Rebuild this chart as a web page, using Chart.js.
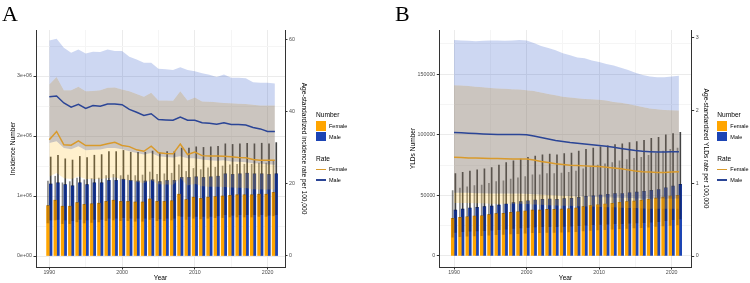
<!DOCTYPE html>
<html lang="en">
<head>
<meta charset="UTF-8">
<title>Incidence and YLDs by sex, 1990-2021</title>
<style>
  body { margin: 0; background: #fff; width: 750px; height: 283px; position: relative; overflow: hidden;
         font-family: "Liberation Sans", Arial, sans-serif; }
  .panel { position: absolute; top: 0; width: 375px; height: 283px; }
  .panel canvas { position: absolute; left: 0; top: 0; }
  .tag { position: absolute; top: 3px; font-family: "Liberation Serif", serif; font-size: 22px; line-height: 22px; color: #000; }
  .lg { position: absolute; white-space: nowrap; color: #000; }
  .lg-title { font-size: 6.6px; line-height: 10px; }
  .lg-lab { font-size: 5.5px; line-height: 10px; }
  .key { position: absolute; width: 9.7px; height: 9.5px; }
  .lkey { position: absolute; width: 9.5px; height: 1.5px; }
</style>
</head>
<body>
  <div class="panel" style="left:0px">
    <canvas id="chartA" width="375" height="283"></canvas>
    <div class="tag" style="left:2px">A</div>
  </div>
  <div class="panel" style="left:375px">
    <canvas id="chartB" width="375" height="283"></canvas>
    <div class="tag" style="left:20px">B</div>
  </div>

  <script src="https://cdn.jsdelivr.net/npm/chart.js"></script>
  <script>
    // ---- data ----
    const years = [1990,1991,1992,1993,1994,1995,1996,1997,1998,1999,2000,2001,2002,2003,2004,2005,
                   2006,2007,2008,2009,2010,2011,2012,2013,2014,2015,2016,2017,2018,2019,2020,2021];
    const sexes = ['Female', 'Male'];

    // panel A: incidence number
    const incFemale   = [0.84e6,0.93e6,0.83e6,0.83e6,0.89e6,0.86e6,0.87e6,0.88e6,0.91e6,0.93e6,0.91e6,0.91e6,0.90e6,0.90e6,0.95e6,0.91e6,
                         0.91e6,0.92e6,1.03e6,0.94e6,0.98e6,0.96e6,0.98e6,0.99e6,1.00e6,1.01e6,1.02e6,1.02e6,1.02e6,1.03e6,1.03e6,1.06e6];
    const incFemaleLo = [0.55e6,0.60e6,0.54e6,0.54e6,0.57e6,0.55e6,0.56e6,0.57e6,0.59e6,0.60e6,0.59e6,0.59e6,0.58e6,0.58e6,0.61e6,0.59e6,
                         0.59e6,0.60e6,0.67e6,0.61e6,0.63e6,0.62e6,0.63e6,0.64e6,0.64e6,0.65e6,0.65e6,0.65e6,0.65e6,0.66e6,0.66e6,0.67e6];
    const incFemaleHi = [1.25e6,1.33e6,1.22e6,1.24e6,1.30e6,1.27e6,1.29e6,1.30e6,1.34e6,1.36e6,1.34e6,1.35e6,1.34e6,1.35e6,1.40e6,1.36e6,
                         1.37e6,1.38e6,1.52e6,1.41e6,1.46e6,1.44e6,1.47e6,1.48e6,1.50e6,1.52e6,1.53e6,1.53e6,1.53e6,1.55e6,1.55e6,1.58e6];
    const incMale     = [1.20e6,1.22e6,1.19e6,1.17e6,1.22e6,1.19e6,1.22e6,1.22e6,1.26e6,1.26e6,1.28e6,1.26e6,1.25e6,1.25e6,1.27e6,1.24e6,
                         1.26e6,1.26e6,1.31e6,1.31e6,1.32e6,1.31e6,1.32e6,1.33e6,1.37e6,1.36e6,1.37e6,1.38e6,1.37e6,1.37e6,1.36e6,1.37e6];
    const incMaleLo   = [0.60e6,0.61e6,0.60e6,0.59e6,0.61e6,0.60e6,0.61e6,0.61e6,0.63e6,0.63e6,0.64e6,0.63e6,0.63e6,0.63e6,0.64e6,0.62e6,
                         0.63e6,0.63e6,0.66e6,0.66e6,0.66e6,0.66e6,0.66e6,0.67e6,0.69e6,0.68e6,0.69e6,0.69e6,0.69e6,0.69e6,0.68e6,0.69e6];
    const incMaleHi   = [1.65e6,1.68e6,1.62e6,1.60e6,1.66e6,1.64e6,1.68e6,1.69e6,1.74e6,1.74e6,1.76e6,1.73e6,1.73e6,1.73e6,1.75e6,1.72e6,
                         1.74e6,1.74e6,1.80e6,1.80e6,1.82e6,1.81e6,1.82e6,1.83e6,1.87e6,1.86e6,1.87e6,1.88e6,1.87e6,1.88e6,1.87e6,1.89e6];
    // panel A: age-standardized incidence rate per 100,000
    const asirFemale   = [32.2,34.5,30.8,30.7,31.9,30.6,30.6,30.6,31.1,31.5,30.6,30.3,29.4,29.0,30.4,28.6,
                          28.4,28.3,31.0,28.1,28.8,27.8,27.7,27.7,27.6,27.5,27.3,27.2,26.7,26.5,26.5,26.5];
    const asirFemaleLo = [22.0,23.0,21.5,21.3,22.0,21.3,21.3,21.3,21.6,21.8,21.2,21.0,20.5,20.2,21.0,19.9,
                          19.8,19.7,21.5,19.5,20.0,19.3,19.2,19.2,19.1,19.0,18.9,18.8,18.5,18.4,18.4,18.4];
    const asirFemaleHi = [47.5,49.6,45.9,45.9,46.9,45.6,45.7,45.9,46.6,46.7,46.1,45.6,44.9,44.1,45.2,43.1,
                          43.1,43.0,45.6,43.1,43.9,42.8,42.7,42.6,42.4,42.3,42.2,42.1,41.9,41.7,41.7,41.7];
    const asirMale     = [44.1,44.3,42.4,41.2,42.0,40.9,41.7,41.5,42.1,42.1,41.9,40.6,39.8,38.9,39.4,37.8,
                          37.7,37.6,38.5,37.6,37.6,36.9,36.8,36.5,36.9,36.4,36.4,36.3,35.6,35.2,34.5,34.5];
    const asirMaleLo   = [31.3,31.8,29.9,29.6,30.4,29.3,29.4,29.5,29.9,29.9,29.6,29.0,28.5,28.1,28.5,27.6,
                          27.4,27.3,27.6,27.1,27.1,26.7,26.5,26.4,26.5,26.2,26.1,26.0,25.7,25.6,25.4,25.3];
    const asirMaleHi   = [59.7,60.2,57.7,56.3,57.2,56.1,56.6,56.5,57.2,56.8,56.8,55.2,54.4,53.5,53.5,51.9,
                          51.7,51.5,52.3,51.5,51.2,50.6,50.2,49.6,50.3,49.4,49.4,49.2,48.1,48.0,48.0,47.8];

    // panel B: YLDs number
    const yldFemale   = [31000,31900,32400,33000,33200,34100,34900,35200,36000,36500,37100,37900,37900,38500,38500,38700,
                         39000,39600,40700,41500,42300,42900,43400,44200,44800,45300,45900,46700,47800,48600,49500,50000];
    const yldFemaleLo = [15500,16000,16300,16600,16800,17200,17600,17800,18200,18500,18800,19200,19200,19500,19500,19600,
                         19800,20100,20600,21100,21500,21800,22100,22500,22800,23100,23400,23800,24400,24800,25300,25600];
    const yldFemaleHi = [54000,56000,57000,58000,58500,60000,61500,62000,63500,64500,65500,67000,67000,68000,68000,68500,
                         69000,70000,72000,73500,75000,76000,77000,78500,79500,80500,81500,83000,85000,86500,88000,89000];
    const yldMale     = [37900,38700,39600,40100,40700,41200,42000,42900,44000,44800,45600,46200,46700,47000,46700,47300,
                         47500,48400,49200,49700,50300,50800,51400,51600,52200,52700,53300,54100,54900,56300,57700,59100];
    const yldMaleLo   = [19500,20000,20500,20700,21000,21300,21700,22200,22800,23200,23600,23900,24200,24300,24200,24500,
                         24600,25100,25500,25800,26100,26300,26600,26700,27000,27300,27600,28000,28400,29200,29900,30600];
    const yldMaleHi   = [68000,69000,70000,71000,72000,73000,75000,77000,78500,80000,81500,82500,83500,84000,83500,84500,
                         85000,86500,88000,89000,90000,91000,92000,92500,93500,94500,95500,97000,98000,100000,101000,102000];
    // panel B: age-standardized YLDs rate per 100,000
    const asyrFemale   = [1.36,1.355,1.35,1.348,1.345,1.343,1.34,1.338,1.336,1.335,1.333,1.32,1.30,1.285,1.27,1.26,
                          1.25,1.245,1.24,1.235,1.23,1.22,1.21,1.20,1.185,1.17,1.16,1.155,1.15,1.15,1.155,1.16];
    const asyrFemaleLo = [0.73,0.73,0.73,0.725,0.725,0.72,0.72,0.72,0.72,0.72,0.715,0.71,0.705,0.70,0.695,0.69,
                          0.69,0.685,0.68,0.68,0.675,0.67,0.67,0.665,0.66,0.66,0.655,0.65,0.65,0.65,0.65,0.65];
    const asyrFemaleHi = [2.35,2.345,2.34,2.33,2.32,2.31,2.305,2.30,2.295,2.29,2.28,2.27,2.25,2.23,2.21,2.19,
                          2.18,2.17,2.16,2.155,2.15,2.14,2.12,2.11,2.09,2.07,2.05,2.03,2.02,2.01,2.005,2.00];
    const asyrMale     = [1.70,1.695,1.69,1.685,1.68,1.675,1.672,1.67,1.67,1.67,1.668,1.65,1.63,1.61,1.59,1.575,
                          1.56,1.55,1.54,1.53,1.52,1.51,1.495,1.48,1.465,1.45,1.44,1.435,1.43,1.43,1.435,1.435];
    const asyrMaleLo   = [0.87,0.87,0.87,0.865,0.865,0.86,0.86,0.86,0.86,0.86,0.855,0.85,0.845,0.84,0.835,0.83,
                          0.825,0.82,0.82,0.815,0.81,0.81,0.805,0.80,0.80,0.795,0.79,0.79,0.79,0.79,0.79,0.79];
    const asyrMaleHi   = [2.97,2.965,2.96,2.955,2.96,2.965,2.965,2.96,2.965,2.97,2.965,2.93,2.89,2.86,2.83,2.79,
                          2.76,2.73,2.72,2.69,2.67,2.64,2.62,2.59,2.56,2.52,2.49,2.47,2.46,2.46,2.47,2.48];

    // ticks
    const xTicks  = [1990, 2000, 2010, 2020];
    const xMinor  = [1995, 2005, 2015];
    const yTicksA = [0, 1e6, 2e6, 3e6];
    const yLabelsA = ['0e+00', '1e+06', '2e+06', '3e+06'];
    const yMinorA = [0.5e6, 1.5e6, 2.5e6, 3.5e6];
    const y2TicksA = [0, 20, 40, 60];
    const yTicksB = [0, 50000, 100000, 150000];
    const yLabelsB = ['0', '50000', '100000', '150000'];
    const yMinorB = [25000, 75000, 125000, 175000];
    const y2TicksB = [0, 1, 2, 3];

    // ---- style ----
    const F_BAR = '#FFA500', M_BAR = '#1C44B4';
    const F_LINE = '#D99A2B', M_LINE = '#2B4596';
    // the two uncertainty ribbons, split into male-only, overlap and female-only bands
    const RIB_M = 'rgba(40,80,200,0.23)', RIB_BOTH = 'rgba(125,110,95,0.4)', RIB_F = 'rgba(255,190,40,0.23)';
    const MAJ = '#EBEBEB', MIN = '#F5F5F5', AXIS = '#333333', TICK = '#4D4D4D';
    const FAM = '"Liberation Sans", Arial, sans-serif';
    const tickFont = { family: FAM, size: 5.3 };
    const titleFont = { family: FAM, size: 6.6 };

    function pts(vals, off) { return years.map((y, i) => ({ x: y + off, y: vals[i] })); }
    function spans(lo, hi, off) { return years.map((y, i) => ({ x: y + off, y: [lo[i], hi[i]] })); }
    function isMajor(list, v) { return list.indexOf(v) >= 0; }

    function makeChart(id, p) {
      const bar = { type: 'bar', grouped: false, yAxisID: 'y', borderWidth: 0 };
      const rib = { type: 'line', yAxisID: 'y2', borderWidth: 0, borderColor: 'transparent', pointRadius: 0 };
      const ln  = { type: 'line', yAxisID: 'y2', borderWidth: 1.5, pointRadius: 0, fill: false, tension: 0 };
      const datasets = [
        { ...bar, data: pts(p.fNum, -0.19), backgroundColor: F_BAR, barThickness: 2.7, order: 50 },
        { ...bar, data: pts(p.mNum, 0.19), backgroundColor: M_BAR, barThickness: 2.7, order: 50 },
        // lower part of the uncertainty interval, shaded inside the bar
        { ...bar, data: spans(p.fLo, p.fNum, -0.19), backgroundColor: 'rgba(120,60,0,0.2)', barThickness: 2.7, order: 45 },
        { ...bar, data: spans(p.mLo, p.mNum, 0.19), backgroundColor: 'rgba(0,0,40,0.22)', barThickness: 2.7, order: 45 },
        { ...bar, data: spans(p.fLo, p.fNum, -0.19), backgroundColor: 'rgba(0,0,0,0.14)', barThickness: 0.7, order: 42 },
        { ...bar, data: spans(p.mLo, p.mNum, 0.19), backgroundColor: 'rgba(0,0,0,0.18)', barThickness: 0.7, order: 42 },
        // upper part of the uncertainty interval, above the bar
        { ...bar, data: spans(p.fNum, p.fHi, -0.19), backgroundColor: 'rgba(40,40,40,0.55)', barThickness: 1, order: 40 },
        { ...bar, data: spans(p.mNum, p.mHi, 0.19), backgroundColor: 'rgba(20,20,20,0.8)', barThickness: 1, order: 40 },
        // ribbons (indices 8..11 must stay consecutive for the '-1' fills)
        { ...rib, data: pts(p.mRateHi, 0), fill: false, order: 20 },
        { ...rib, data: pts(p.fRateHi, 0), fill: '-1', backgroundColor: RIB_M, order: 20 },
        { ...rib, data: pts(p.mRateLo, 0), fill: '-1', backgroundColor: RIB_BOTH, order: 20 },
        { ...rib, data: pts(p.fRateLo, 0), fill: '-1', backgroundColor: RIB_F, order: 20 },
        { ...ln, data: pts(p.fRate, 0), borderColor: F_LINE, order: 5 },
        { ...ln, data: pts(p.mRate, 0), borderColor: M_LINE, order: 5 }
      ];

      return new Chart(document.getElementById(id), {
        type: 'line',
        data: { datasets: datasets },
        options: {
          responsive: false,
          animation: false,
          devicePixelRatio: 1,
          layout: { padding: { left: 0, top: 30, right: p.padRight, bottom: 0 } },
          plugins: { legend: { display: false }, tooltip: { enabled: false } },
          scales: {
            x: {
              type: 'linear', min: p.xMin, max: p.xMax, offset: false,
              afterBuildTicks: s => { s.ticks = xTicks.concat(xMinor).sort().map(v => ({ value: v })); },
              afterFit: s => { s.height = 16; },
              grid: {
                offset: false, tickLength: 2.5,
                color: c => isMajor(xTicks, c.tick.value) ? MAJ : MIN,
                tickColor: c => isMajor(xTicks, c.tick.value) ? AXIS : 'rgba(0,0,0,0)'
              },
              border: { color: AXIS, width: 1 },
              ticks: { font: tickFont, color: TICK, padding: 0, maxRotation: 0, autoSkip: false,
                       callback: v => isMajor(xTicks, v) ? String(v) : '' },
              title: { display: true, text: 'Year', font: titleFont, color: '#000', padding: { top: 0, bottom: 1 } }
            },
            y: {
              position: 'left', min: p.yMin, max: p.yMax,
              afterBuildTicks: s => { s.ticks = p.yTicks.concat(p.yMinor).sort((a, b) => a - b).map(v => ({ value: v })); },
              afterFit: s => { s.width = p.leftW; },
              grid: {
                tickLength: 2.5,
                color: c => isMajor(p.yTicks, c.tick.value) ? MAJ : MIN,
                tickColor: c => isMajor(p.yTicks, c.tick.value) ? AXIS : 'rgba(0,0,0,0)'
              },
              border: { color: AXIS, width: 1 },
              ticks: { font: tickFont, color: TICK, padding: 1.5, autoSkip: false,
                       callback: v => { const k = p.yTicks.indexOf(v); return k >= 0 ? p.yLabels[k] : ''; } },
              title: { display: true, text: p.yTitle, font: titleFont, color: '#000', padding: { top: p.leftTitlePad, bottom: 0 } }
            },
            y2: {
              position: 'right', min: p.y2Min, max: p.y2Max,
              afterBuildTicks: s => { s.ticks = p.y2Ticks.map(v => ({ value: v })); },
              afterFit: s => { s.width = p.rightW; },
              grid: { drawOnChartArea: false, tickLength: 2.5, tickColor: AXIS },
              border: { color: AXIS, width: 1 },
              ticks: { font: tickFont, color: TICK, padding: 1.5, autoSkip: false },
              title: { display: true, text: p.y2Title, font: titleFont, color: '#000', padding: { top: p.rightTitlePad, bottom: 0 } }
            }
          }
        }
      });
    }

    function addLegend(panel, x) {
      const wrap = document.createElement('div');
      wrap.className = 'lg';
      wrap.style.left = x + 'px';
      wrap.style.top = '0px';
      let html = '<div class="lg-title" style="position:absolute;top:110px;left:0">Number</div>';
      const cols = [F_BAR, M_BAR], lcols = [F_LINE, M_LINE];
      sexes.forEach((s, i) => {
        const top = 121 + i * 10.5;
        html += '<div class="key" style="left:0;top:' + top + 'px;background:' + cols[i] + '"></div>';
        html += '<div class="lg-lab" style="position:absolute;left:13px;top:' + (top) + 'px">' + s + '</div>';
      });
      html += '<div class="lg-title" style="position:absolute;top:153.5px;left:0">Rate</div>';
      sexes.forEach((s, i) => {
        const cy = 169.3 + i * 10.7;
        html += '<div class="lkey" style="left:0;top:' + (cy - 0.75) + 'px;background:' + lcols[i] + '"></div>';
        html += '<div class="lg-lab" style="position:absolute;left:13px;top:' + (cy - 5) + 'px">' + s + '</div>';
      });
      wrap.innerHTML = html;
      panel.appendChild(wrap);
    }

    makeChart('chartA', {
      fNum: incFemale, fLo: incFemaleLo, fHi: incFemaleHi,
      mNum: incMale, mLo: incMaleLo, mHi: incMaleHi,
      fRate: asirFemale, fRateLo: asirFemaleLo, fRateHi: asirFemaleHi,
      mRate: asirMale, mRateLo: asirMaleLo, mRateHi: asirMaleHi,
      xMin: 1988.17, xMax: 2022.39,
      yMin: -0.183e6, yMax: 3.767e6, yTicks: yTicksA, yLabels: yLabelsA, yMinor: yMinorA,
      y2Min: -3.05, y2Max: 62.6, y2Ticks: y2TicksA,
      yTitle: 'Incidence Number', y2Title: 'Age-standardized incidence rate per 100,000',
      leftW: 36, rightW: 25, padRight: 65, leftTitlePad: 9, rightTitlePad: 2
    });

    makeChart('chartB', {
      fNum: yldFemale, fLo: yldFemaleLo, fHi: yldFemaleHi,
      mNum: yldMale, mLo: yldMaleLo, mHi: yldMaleHi,
      fRate: asyrFemale, fRateLo: asyrFemaleLo, fRateHi: asyrFemaleHi,
      mRate: asyrMale, mRateLo: asyrMaleLo, mRateHi: asyrMaleHi,
      xMin: 1987.97, xMax: 2022.76,
      yMin: -9076, yMax: 186469, yTicks: yTicksB, yLabels: yLabelsB, yMinor: yMinorB,
      y2Min: -0.151, y2Max: 3.109, y2Ticks: y2TicksB,
      yTitle: 'YLDs Number', y2Title: 'Age-standardized YLDs rate per 100,000',
      leftW: 64.3, rightW: 21, padRight: 37.3, leftTitlePad: 34, rightTitlePad: 3.4
    });

    const panels = document.querySelectorAll('.panel');
    addLegend(panels[0], 316);
    addLegend(panels[1], 342.3);
  </script>
</body>
</html>
